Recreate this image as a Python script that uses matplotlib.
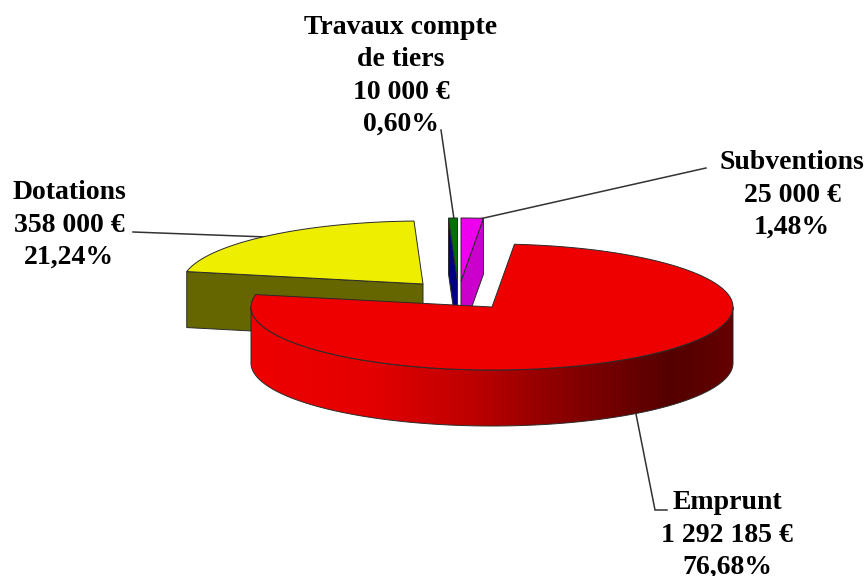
import numpy as np
import matplotlib
matplotlib.use("Agg")
import matplotlib.pyplot as plt
from matplotlib.colors import LinearSegmentedColormap
from matplotlib.patches import Polygon

# Data (clockwise from north)
categories = ["Subventions", "Emprunt", "Dotations", "Travaux compte\nde tiers"]
values = [25000, 1292185, 358000, 10000]
amount_labels = ["25 000 €", "1 292 185 €", "358 000 €", "10 000 €"]
percent_labels = ["1,48%", "76,68%", "21,24%", "0,60%"]

# Styles / layout (pixel space)
top_colors = ["#EE00EE", "#EE0000", "#EEEE00", "#007000"]
side_colors = ["#CC00CC", "#AA0000", "#666600", "#000080"]
centers = [(461, 281), (492, 307), (423, 284), (457.5, 281)]
label_pos = [(792, 195), (727, 535), (69, 225), (401, 76)]
leaders = [
    [(706, 168), (475, 220)],
    [(636, 414), (655, 510), (667, 510)],
    [(133, 232), (267, 237)],
    [(441, 130), (454, 219)],
]
A, B, DEPTH = 241, 63, 56
EDGE = "#2a2a2a"

fig = plt.figure(figsize=(8.66, 5.76), dpi=100)
ax = fig.add_axes([0, 0, 1, 1])
ax.set_xlim(0, 866)
ax.set_ylim(576, 0)
ax.axis("off")

total = sum(values)
edges = np.concatenate([[0], np.cumsum(values) / total * 360])


def pt(c, theta):
    t = np.radians(theta)
    return np.column_stack([c[0] + A * np.sin(t), c[1] - B * np.cos(t)])


wall_cmap = LinearSegmentedColormap.from_list(
    "wall",
    [(0.0, "#EE0000"), (0.25, "#E40000"), (0.47, "#BB0000"), (0.60, "#950000"),
     (0.87, "#550000"), (0.93, "#5A0000"), (1.0, "#660000")],
)

for i in [2, 3, 0, 1]:
    c = centers[i]
    a0, a1 = edges[i], edges[i + 1]
    z = 2 + [2, 3, 0, 1].index(i)
    # flat cut faces that look towards the viewer
    for theta, sign in ((a0, -1), (a1, 1)):
        if sign * np.sin(np.radians(theta)) > 1e-6:
            p = pt(c, theta)[0]
            face = [tuple(p), c, (c[0], c[1] + DEPTH), (p[0], p[1] + DEPTH)]
            ax.add_patch(Polygon(face, closed=True, fc=side_colors[i], ec=EDGE, lw=0.7, zorder=z))
    # curved outer wall on the front half
    lo, hi = max(a0, 90), min(a1, 270)
    if hi > lo:
        arc = pt(c, np.linspace(lo, hi, 200))
        wall = np.vstack([arc, (arc + [0, DEPTH])[::-1]])
        patch = Polygon(wall, closed=True, fc="none", ec=EDGE, lw=0.7, zorder=z + 0.1)
        ax.add_patch(patch)
        grad = np.linspace(0, 1, 512).reshape(1, -1)
        im = ax.imshow(grad, cmap=wall_cmap, aspect="auto", zorder=z,
                       extent=(c[0] - A, c[0] + A, c[1] + B + DEPTH, c[1] - B))
        im.set_clip_path(patch)
    # top surface
    th = np.linspace(a0, a1, 300)
    top = np.vstack([[c], pt(c, th)])
    ax.add_patch(Polygon(top, closed=True, fc=top_colors[i], ec=EDGE, lw=0.7, zorder=z + 0.2))

ax.set_xlim(0, 866)
ax.set_ylim(576, 0)

for line in leaders:
    xs, ys = zip(*line)
    ax.plot(xs, ys, color="#333333", lw=1.1, zorder=1.5, solid_joinstyle="miter")

for name, amt, pct, pos in zip(categories, amount_labels, percent_labels, label_pos):
    ax.text(pos[0], pos[1], f"{name}\n{amt}\n{pct}", ha="center", va="center",
            family="Liberation Serif", weight="bold", fontsize=20,
            linespacing=1.39, color="#000000", zorder=10, clip_on=False)

fig.savefig("out.png", dpi=100)
